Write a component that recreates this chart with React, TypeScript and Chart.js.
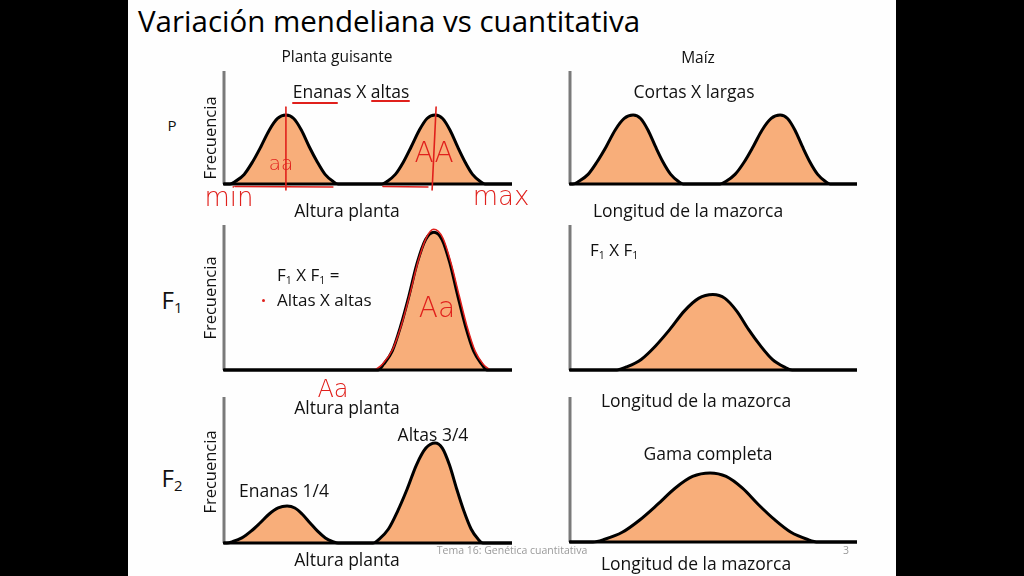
import React, { useEffect, useRef } from "react";
import { Chart, registerables } from "chart.js";

Chart.register(...registerables);

// ---------- DATA (x: 0..100 along the trait axis, y: 0..100 frequency) ----------
// P – Planta guisante (Enanas X altas)
const pGuisanteX = [0, 2.1, 4.0, 7.0, 9.9, 12.8, 15.7, 18.6, 21.5, 24.2, 26.9, 29.6, 32.4, 35.1, 37.8, 39.6, 54.9, 56.7, 59.5, 62.3, 65.0, 67.8, 70.5, 73.3, 75.9, 78.5, 81.1, 83.7, 86.3, 88.9, 90.6, 100];
const pGuisanteY = [0, 0, 2.4, 8.5, 19.5, 33, 47.6, 58, 61, 58, 47.6, 33, 19.5, 8.5, 2.4, 0, 0, 2.4, 8.5, 19.5, 33, 47.6, 58, 61, 58, 47.6, 33, 19.5, 8.5, 2.4, 0, 0];
const pGuisantePeaks = [21.5, 73.3];

// P – Maíz (Cortas X largas)
const pMaizX = [0, 1.0, 3.1, 6.3, 9.4, 12.6, 15.7, 18.9, 22.0, 24.6, 27.2, 29.8, 32.4, 35.1, 37.7, 39.4, 52.3, 54.4, 57.5, 60.7, 63.8, 66.9, 70.1, 73.2, 75.8, 78.4, 81.0, 83.6, 86.3, 88.9, 90.6, 100];
const pMaizY = [0, 0, 2.4, 8.5, 19.5, 33, 47.6, 58, 61, 58, 47.6, 33, 19.5, 8.5, 2.4, 0, 0, 2.4, 8.5, 19.5, 33, 47.6, 58, 61, 58, 47.6, 33, 19.5, 8.5, 2.4, 0, 0];

// F1 – Planta guisante
const f1GuisanteX = [0, 53.5, 55.4, 58.4, 61.3, 64.2, 67.1, 70.0, 72.9, 75.7, 78.4, 81.2, 83.9, 86.7, 89.5, 91.3, 100];
const f1GuisanteY = [0, 0, 4, 13, 30, 51, 74, 90, 95, 90, 74, 51, 30, 13, 4, 0, 0];
// hand-drawn red trace over the F1 curve
const f1TraceX = [52.5, 55.0, 58.5, 61.6, 64.5, 67.4, 70.2, 72.8, 76.0, 78.8, 81.7, 84.4, 87.2, 90.0, 92.5];
const f1TraceY = [0, 4, 14, 31, 52, 75, 91, 97, 91, 74, 51, 30, 13, 4, 0];

// F1 – Maíz
const f1MaizX = [0, 16.4, 19.7, 24.8, 29.8, 34.8, 39.8, 44.8, 49.8, 54.0, 58.1, 62.2, 66.4, 70.5, 74.6, 77.4, 100];
const f1MaizY = [0, 0, 2.1, 7.3, 16.6, 28, 40.6, 49.4, 52, 49.4, 40.6, 28, 16.6, 7.3, 2.1, 0, 0];

// F2 – Planta guisante (Enanas 1/4, Altas 3/4)
const f2GuisanteX = [0, 1.0, 3.1, 6.2, 9.4, 12.5, 15.6, 18.8, 21.9, 24.6, 27.2, 29.9, 32.5, 35.2, 37.8, 39.6, 51.7, 53.9, 57.1, 60.3, 63.6, 66.8, 70.1, 73.3, 75.8, 78.3, 80.8, 83.3, 85.8, 88.2, 89.9, 100];
const f2GuisanteY = [0, 0, 1.0, 3.5, 8.1, 13.7, 19.7, 24, 25.3, 24, 19.7, 13.7, 8.1, 3.5, 1.0, 0, 0, 2.7, 9.6, 21.9, 37, 53.4, 65, 68.5, 65, 53.4, 37, 21.9, 9.6, 2.7, 0, 0];

// F2 – Maíz (Gama completa)
const f2MaizX = [0, 8.0, 12.1, 18.2, 24.3, 30.4, 36.6, 42.7, 48.8, 54.4, 60.1, 65.7, 71.4, 77.0, 82.6, 86.4, 100];
const f2MaizY = [0, 0, 1.9, 6.7, 15.2, 25.7, 37.1, 45.2, 47.6, 45.2, 37.1, 25.7, 15.2, 6.7, 1.9, 0, 0];

// ---------- STYLE / LAYOUT ----------
const ORANGE = "#F8AE7A";
const RED = "#E0201C";
const FONT = "'Open Sans', Lato, sans-serif";
const HAND = "'DejaVu Sans', sans-serif";
const PAD = 10;

type PanelDef = {
  xs: number[];
  ys: number[];
  left: number;
  right: number;
  top: number;
  bottom: number;
  trace?: { xs: number[]; ys: number[] };
  peaks?: number[];
};

const panels: PanelDef[] = [
  { xs: pGuisanteX, ys: pGuisanteY, left: 224, right: 512, top: 71, bottom: 184, peaks: pGuisantePeaks },
  { xs: pMaizX, ys: pMaizY, left: 570, right: 857, top: 71, bottom: 184 },
  { xs: f1GuisanteX, ys: f1GuisanteY, left: 224, right: 512, top: 225, bottom: 370, trace: { xs: f1TraceX, ys: f1TraceY } },
  { xs: f1MaizX, ys: f1MaizY, left: 570, right: 857, top: 225, bottom: 370 },
  { xs: f2GuisanteX, ys: f2GuisanteY, left: 224, right: 512, top: 397, bottom: 543 },
  { xs: f2MaizX, ys: f2MaizY, left: 570, right: 857, top: 397, bottom: 542 },
];

const axesPlugin = {
  id: "slideAxes",
  beforeDatasetsDraw(chart: any) {
    const { ctx, chartArea: a } = chart;
    ctx.save();
    ctx.strokeStyle = "#7a7a7a";
    ctx.lineWidth = 3;
    ctx.beginPath();
    ctx.moveTo(a.left, a.top);
    ctx.lineTo(a.left, a.bottom);
    ctx.stroke();
    ctx.restore();
  },
  afterDatasetsDraw(chart: any) {
    const { ctx, chartArea: a } = chart;
    ctx.save();
    ctx.strokeStyle = "#000";
    ctx.lineWidth = 3;
    ctx.beginPath();
    ctx.moveTo(a.left - 1, a.bottom);
    ctx.lineTo(a.right, a.bottom);
    ctx.stroke();
    ctx.restore();
  },
};

function makeMarksPlugin(peaks: number[]) {
  return {
    id: "redMarks",
    afterDraw(chart: any) {
      const { ctx, chartArea: a, scales } = chart;
      const xs = scales.x;
      const ys = scales.y;
      ctx.save();
      ctx.strokeStyle = RED;
      ctx.lineWidth = 1.6;
      ctx.lineCap = "round";
      peaks.forEach((p, i) => {
        const px = xs.getPixelForValue(p);
        ctx.beginPath();
        ctx.moveTo(px + (i === 1 ? 1 : 0), ys.getPixelForValue(68));
        ctx.lineTo(px - (i === 1 ? 3 : 0), a.bottom + 6);
        ctx.stroke();
      });
      // red strokes just under the baseline
      const segs = [
        [3.8, 37.8],
        [55.2, 70.8],
      ];
      segs.forEach(([s, e]) => {
        ctx.beginPath();
        ctx.moveTo(xs.getPixelForValue(s), a.bottom + 2.5);
        ctx.lineTo(xs.getPixelForValue(e), a.bottom + 3);
        ctx.stroke();
      });
      ctx.restore();
    },
  };
}

function ChartPanel({ p }: { p: PanelDef }) {
  const ref = useRef<HTMLCanvasElement>(null);
  useEffect(() => {
    if (!ref.current) return;
    const datasets: any[] = [
      {
        data: p.xs.map((x, i) => ({ x, y: p.ys[i] })),
        borderColor: "#000",
        borderWidth: 3,
        backgroundColor: ORANGE,
        fill: "origin",
        pointRadius: 0,
        cubicInterpolationMode: "monotone",
        clip: false,
        order: 1,
      },
    ];
    if (p.trace) {
      datasets.push({
        data: p.trace.xs.map((x, i) => ({ x, y: p.trace!.ys[i] })),
        borderColor: RED,
        borderWidth: 1.5,
        fill: false,
        pointRadius: 0,
        cubicInterpolationMode: "monotone",
        clip: false,
        order: 0,
      });
    }
    const plugins: any[] = [axesPlugin];
    if (p.peaks) plugins.push(makeMarksPlugin(p.peaks));
    const chart = new Chart(ref.current, {
      type: "line",
      data: { datasets },
      options: {
        animation: false,
        responsive: false,
        maintainAspectRatio: false,
        events: [],
        layout: { padding: PAD },
        plugins: { legend: { display: false }, tooltip: { enabled: false } },
        scales: {
          x: { type: "linear", min: 0, max: 100, display: false },
          y: { type: "linear", min: 0, max: 100, display: false },
        },
      },
      plugins,
    });
    return () => chart.destroy();
  }, []);
  const w = p.right - p.left + PAD * 2;
  const h = p.bottom - p.top + PAD * 2;
  return (
    <canvas
      ref={ref}
      width={w}
      height={h}
      style={{ position: "absolute", left: p.left - PAD, top: p.top - PAD, width: w, height: h }}
    />
  );
}

// Text positioned by baseline (baseline at ~0.888em in a line-height:1 box)
function T({
  x,
  base,
  size,
  children,
  align = "center",
  color = "#111",
  family = FONT,
  baseRatio = 0.888,
  weight = 400,
}: any) {
  return (
    <div
      style={{
        position: "absolute",
        left: x,
        top: base + 1.5 - baseRatio * size,
        transform: align === "center" ? "translateX(-50%)" : undefined,
        fontFamily: family,
        fontSize: size,
        lineHeight: 1,
        whiteSpace: "nowrap",
        color,
        fontWeight: weight,
      }}
    >
      {children}
    </div>
  );
}

function Vert({ cx, cy, size, children }: any) {
  return (
    <div
      style={{
        position: "absolute",
        left: cx,
        top: cy,
        transform: "translate(-50%, -50%) rotate(-90deg)",
        fontFamily: FONT,
        fontSize: size,
        lineHeight: 1,
        whiteSpace: "nowrap",
        color: "#111",
      }}
    >
      {children}
    </div>
  );
}

const Sub = ({ children }: any) => (
  <span style={{ fontSize: "0.62em", verticalAlign: "-0.28em" }}>{children}</span>
);

function Hand({ x, base, size, children }: any) {
  return (
    <T x={x} base={base - 1.5} size={size} family={HAND} color={RED} baseRatio={0.846} weight={200}>
      {children}
    </T>
  );
}

function RedBar({ x1, x2, y }: any) {
  return (
    <div style={{ position: "absolute", left: x1, top: y, width: x2 - x1, height: 2, background: RED, borderRadius: 1 }} />
  );
}

export default function App() {
  return (
    <div style={{ position: "absolute", left: 0, top: 0, width: 1024, height: 576, background: "#000", overflow: "hidden" }}>
      <div style={{ position: "absolute", left: 128, top: 0, width: 768, height: 576, background: "#fefefe" }} />

      {panels.map((p, i) => (
        <ChartPanel key={i} p={p} />
      ))}

      {/* Title & column headers */}
      <T x={138} base={31} size={29.5} align="left" color="#000">Variación mendeliana vs cuantitativa</T>
      <T x={337} base={61} size={15.5}>Planta guisante</T>
      <T x={698} base={62} size={15.5}>Maíz</T>

      {/* Row P */}
      <T x={172} base={130} size={15}>P</T>
      <Vert cx={210} cy={138} size={16.5}>Frecuencia</Vert>
      <T x={351} base={97} size={17.5}>Enanas X altas</T>
      <T x={694} base={97} size={17.5}>Cortas X largas</T>
      <T x={347} base={216} size={17.5}>Altura planta</T>
      <T x={688} base={216} size={17.5}>Longitud de la mazorca</T>

      {/* Row F1 */}
      <T x={172} base={308} size={24}>F<Sub>1</Sub></T>
      <Vert cx={210} cy={298} size={16.5}>Frecuencia</Vert>
      <T x={277} base={280} size={17} align="left">F<Sub>1</Sub> X F<Sub>1</Sub> =</T>
      <T x={277} base={305} size={17} align="left">Altas X altas</T>
      <T x={590} base={255} size={17} align="left">F<Sub>1</Sub> X F<Sub>1</Sub></T>
      <T x={347} base={413} size={17.5}>Altura planta</T>
      <T x={696} base={406} size={17.5}>Longitud de la mazorca</T>

      {/* Row F2 */}
      <T x={172} base={486} size={24}>F<Sub>2</Sub></T>
      <Vert cx={210} cy={472} size={16.5}>Frecuencia</Vert>
      <T x={284} base={496} size={17.5}>Enanas 1/4</T>
      <T x={433} base={440} size={17.5}>Altas 3/4</T>
      <T x={708} base={459} size={17.5}>Gama completa</T>
      <T x={347} base={565} size={17.5}>Altura planta</T>
      <T x={696} base={569} size={17.5}>Longitud de la mazorca</T>

      {/* Footer */}
      <T x={512} base={553} size={10.5} color="#9a9a9a">Tema 16: Genética cuantitativa</T>
      <T x={846} base={553} size={10.5} color="#9a9a9a">3</T>

      {/* Hand-written red annotations */}
      <RedBar x1={292} x2={338} y={102} />
      <RedBar x1={371} x2={410} y={100} />
      <Hand x={229} base={206} size={26}>min</Hand>
      <Hand x={501} base={205} size={26}>max</Hand>
      <Hand x={281} base={170} size={20}>aa</Hand>
      <Hand x={434} base={163} size={28}>AA</Hand>
      <Hand x={437} base={318} size={28}>Aa</Hand>
      <Hand x={333} base={397} size={24}>Aa</Hand>
      <div style={{ position: "absolute", left: 262, top: 299, width: 3, height: 3, borderRadius: 2, background: RED }} />
    </div>
  );
}
